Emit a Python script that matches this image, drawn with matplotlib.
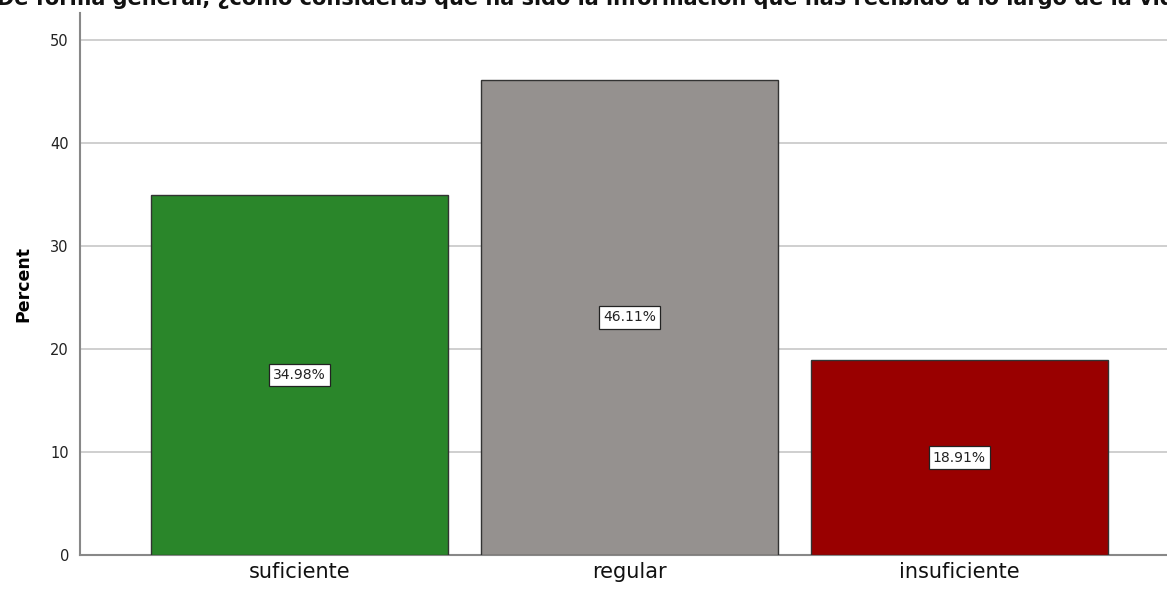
import matplotlib
matplotlib.use("Agg")
import matplotlib.pyplot as plt

categories = ["suficiente", "regular", "insuficiente"]
percents = [34.98, 46.11, 18.91]
bar_colors = ["#2a862a", "#95918f", "#990000"]
title = ("De forma general, ¿cómo consideras que ha sido la información "
         "que has recibido a lo largo de la vida?")

plt.rcParams['font.family'] = ['DejaVu Sans']

fig = plt.figure(figsize=(11.67, 5.89), dpi=100)
ax = fig.add_axes([80 / 1167, 34 / 589, 1 - 80 / 1167, (589 - 47) / 589])

x = list(range(len(categories)))
bars = ax.bar(x, percents, width=0.9, color=bar_colors, edgecolor="#333333",
              linewidth=1.0, zorder=3)

# labels in the middle of each bar
for b, p in zip(bars, percents):
    ax.text(b.get_x() + b.get_width() / 2, p / 2, f"{p:.2f}%",
            ha="center", va="center", fontsize=10, color="#222222", zorder=4,
            bbox=dict(boxstyle="square,pad=0.3", fc="white", ec="#222222", lw=0.9))

ax.set_xlim(-0.665, 2.629)
ax.set_ylim(0, 52.6)
ax.set_yticks([0, 10, 20, 30, 40, 50])
ax.set_xticks(x)
ax.set_xticklabels(categories, fontsize=15, color="#111111")
ax.tick_params(axis="y", length=0, labelsize=10.5, pad=8, colors="#222222")
ax.tick_params(axis="x", length=0, pad=5)
ax.set_ylabel("Percent", fontsize=12.5, fontweight="bold", labelpad=13)

ax.grid(axis="y", color="#cccccc", linewidth=1.3, zorder=0)
ax.set_axisbelow(True)
for side in ["top", "right"]:
    ax.spines[side].set_visible(False)
for side in ["left", "bottom"]:
    ax.spines[side].set_color("#888888")
    ax.spines[side].set_linewidth(1.5)

# title is cut off at the top in the original
fig.text(-3 / 1167, 1 - 5 / 589, title, ha="left", va="baseline",
         fontsize=15, fontweight="bold", color="#111111")

fig.savefig("out.png", dpi=100)
